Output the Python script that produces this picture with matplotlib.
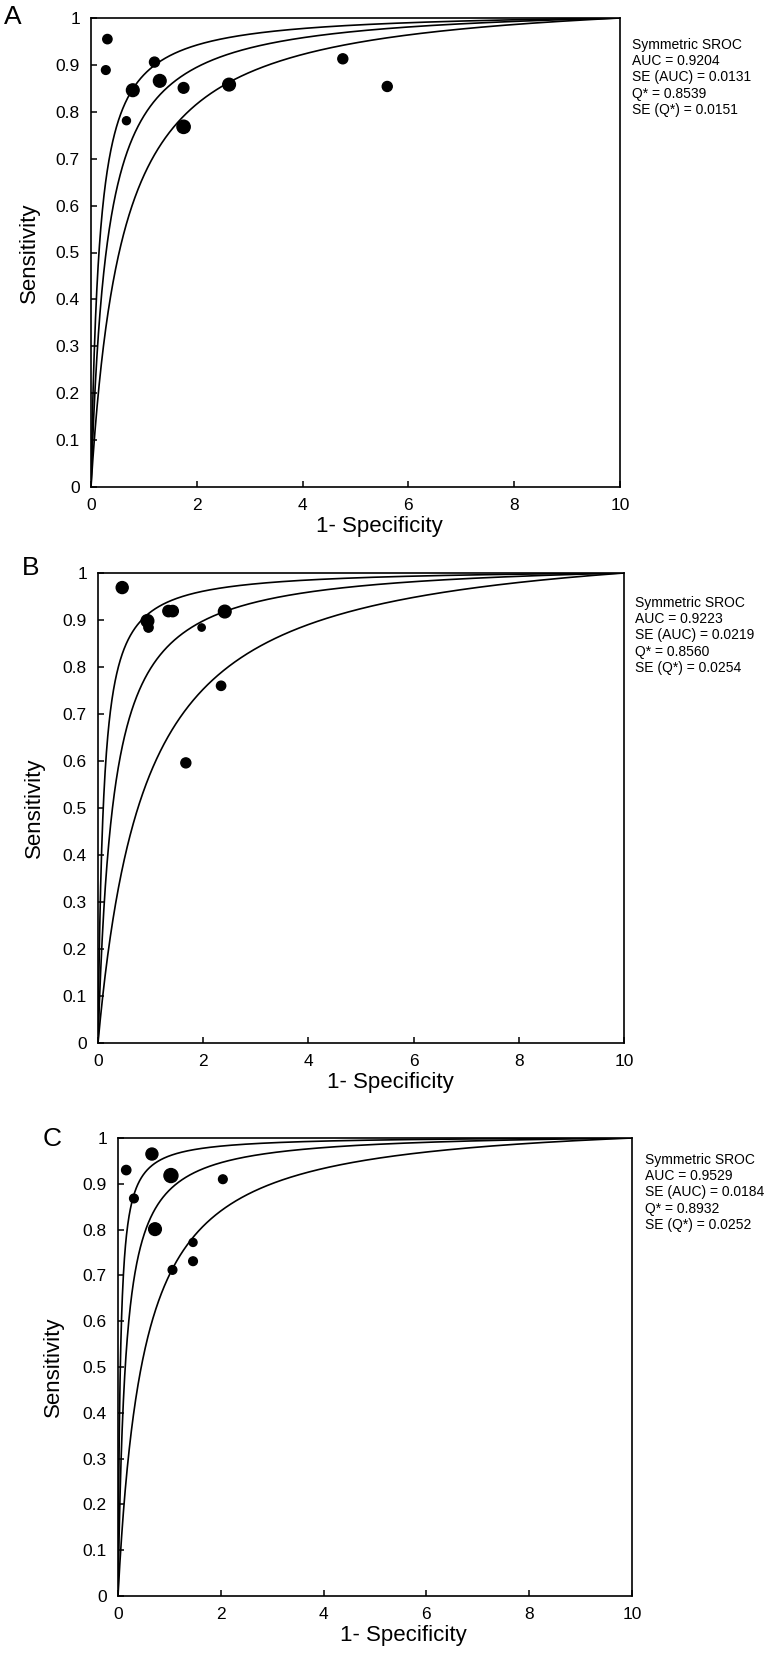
import numpy as np
import matplotlib
matplotlib.use('Agg')
import matplotlib.pyplot as plt

plt.rcParams['font.family'] = ['Liberation Sans', 'DejaVu Sans']

# study points (x = 1-specificity on the 0-10 axis)
A_fpr = [0.31, 0.28, 1.20, 0.79, 0.67, 1.30, 1.75, 1.75, 2.61, 4.76, 5.60]
A_sens = [0.955, 0.889, 0.906, 0.846, 0.781, 0.866, 0.851, 0.768, 0.858, 0.913, 0.854]
A_weight = [9.3, 8.7, 10, 12.7, 8, 12.7, 10.7, 13.3, 12.7, 10, 10]

B_fpr = [0.46, 0.94, 0.96, 1.34, 1.42, 1.97, 2.41, 2.34, 1.67]
B_sens = [0.969, 0.898, 0.884, 0.919, 0.919, 0.884, 0.918, 0.760, 0.596]
B_weight = [12, 12.7, 9.3, 11.3, 11.3, 7.3, 12.7, 9.3, 10]

C_fpr = [0.16, 0.31, 0.66, 1.03, 0.72, 2.04, 1.46, 1.46, 1.06]
C_sens = [0.930, 0.868, 0.965, 0.918, 0.801, 0.910, 0.772, 0.731, 0.712]
C_weight = [9.3, 8.7, 12, 14, 12.7, 8.7, 8, 8.7, 8.7]

# log diagnostic odds ratio of the symmetric SROC curves (upper, fitted, lower)
A_lndor = [4.18, 3.53, 2.88]
B_lndor = [4.60, 3.565, 2.50]
C_lndor = [5.40, 4.25, 3.05]

A_stats = ['Symmetric SROC', 'AUC = 0.9204', 'SE (AUC) = 0.0131',
           'Q* = 0.8539', 'SE (Q*) = 0.0151']
B_stats = ['Symmetric SROC', 'AUC = 0.9223', 'SE (AUC) = 0.0219',
           'Q* = 0.8560', 'SE (Q*) = 0.0254']
C_stats = ['Symmetric SROC', 'AUC = 0.9529', 'SE (AUC) = 0.0184',
           'Q* = 0.8932', 'SE (Q*) = 0.0252']

W, H = 771, 1653
fig = plt.figure(figsize=(W / 100, H / 100), dpi=100)

# pixel boxes: left, right, top, bottom; letter pos; text pos; ylabel x; xlabel centre
panels = [
    ('A', A_fpr, A_sens, A_weight, A_lndor, A_stats,
     (91, 620, 18, 487), (13, 17), (632, 38), 40, 379),
    ('B', B_fpr, B_sens, B_weight, B_lndor, B_stats,
     (98, 624, 573, 1043), (31, 568), (635, 596), 45, 390),
    ('C', C_fpr, C_sens, C_weight, C_lndor, C_stats,
     (118, 632, 1138, 1596), (52, 1139), (645, 1153), 64, 403),
]

f = np.linspace(1e-5, 1, 2000)

for letter, fpr, sens, weight, lndor, stats, box, lpos, tpos, ylx, xlx in panels:
    l, r, t, b = box
    ax = fig.add_axes([l / W, 1 - b / H, (r - l) / W, (b - t) / H])

    for a in lndor:
        tpr = 1 / (1 + np.exp(-a) * (1 - f) / f)
        ax.plot(f * 10, tpr, color='black', lw=1.2)

    sizes = [(d * 0.72) ** 2 for d in weight]
    ax.scatter(fpr, sens, s=sizes, color='black', zorder=3, clip_on=False)

    ax.set_xlim(0, 10)
    ax.set_ylim(0, 1)
    ax.set_xticks(range(0, 11, 2))
    ax.set_yticks(np.arange(0, 1.01, 0.1))
    ax.set_yticklabels(['0', '0.1', '0.2', '0.3', '0.4', '0.5', '0.6',
                        '0.7', '0.8', '0.9', '1'])
    ax.tick_params(direction='in', length=4.5, width=1.1, labelsize=12.5, pad=8)
    for sp in ax.spines.values():
        sp.set_linewidth(1.2)

    ax.set_ylabel('Sensitivity', fontsize=16)
    ax.yaxis.set_label_coords((ylx - l) / (r - l), 0.5)
    ax.set_xlabel('1- Specificity', fontsize=16)
    ax.xaxis.set_label_coords((xlx - l) / (r - l), -29 / (b - t))

    fig.text(lpos[0] / W, 1 - lpos[1] / H, letter, fontsize=19,
             ha='center', va='center')
    fig.text(tpos[0] / W, 1 - tpos[1] / H, '\n'.join(stats), fontsize=10,
             ha='left', va='top', linespacing=1.2)

fig.savefig('out.png', dpi=100)
